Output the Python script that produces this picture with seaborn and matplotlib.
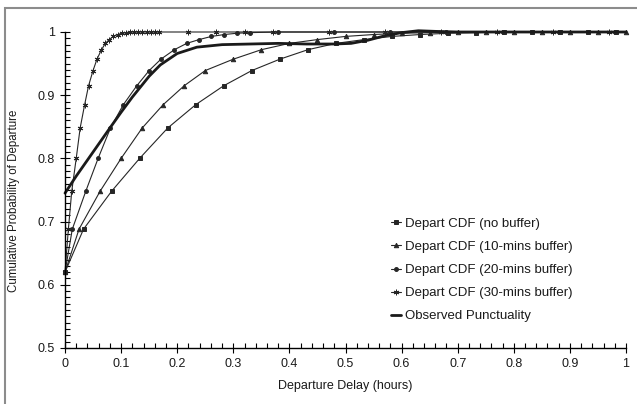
import numpy as np
import pandas as pd
import matplotlib
matplotlib.use("Agg")
import matplotlib.pyplot as plt
import seaborn as sns
from matplotlib.patches import Rectangle
from matplotlib.ticker import MultipleLocator

sns.set_theme(style="white")
plt.rcParams['font.family'] = ['Liberation Sans', 'DejaVu Sans']

# ---- data ----
cdf_y = [0.62, 0.688, 0.748, 0.80, 0.848, 0.885, 0.915, 0.939, 0.957, 0.972,
         0.982, 0.988, 0.993, 0.996, 0.998, 0.999, 1.0, 1.0, 1.0, 1.0, 1.0]

nobuf_x = [0, 0.033, 0.083, 0.133, 0.183, 0.233, 0.283, 0.333, 0.383, 0.433,
           0.483, 0.533, 0.583, 0.633, 0.683, 0.733, 0.783, 0.833, 0.883, 0.933, 0.983]
nobuf_y = cdf_y

buf10_x = [0, 0.025, 0.0625, 0.10, 0.1375, 0.175, 0.2125, 0.25, 0.30, 0.35,
           0.40, 0.45, 0.50, 0.55, 0.60, 0.65, 0.70, 0.75, 0.80, 0.85, 0.90, 0.95, 1.0]
buf10_y = [0.62, 0.688, 0.748, 0.80, 0.848, 0.885, 0.915, 0.939, 0.957, 0.972,
           0.982, 0.988, 0.993, 0.996, 0.998, 0.999, 1.0, 1.0, 1.0, 1.0, 1.0, 1.0, 1.0]

buf20_x = [0, 0.013, 0.037, 0.059, 0.081, 0.104, 0.128, 0.15, 0.171, 0.195,
           0.217, 0.239, 0.261, 0.284, 0.306, 0.33, 0.38, 0.48, 0.58, 0.68,
           0.78, 0.88, 0.98]
buf20_y = [0.62, 0.688, 0.748, 0.80, 0.848, 0.885, 0.915, 0.939, 0.957, 0.972,
           0.982, 0.988, 0.993, 0.996, 0.998, 0.999, 1.0, 1.0, 1.0, 1.0,
           1.0, 1.0, 1.0]

buf30_x = [0, 0.006, 0.012, 0.020, 0.027, 0.035, 0.042, 0.050, 0.057, 0.065,
           0.072, 0.079, 0.086, 0.094, 0.101, 0.108, 0.116, 0.123, 0.131, 0.138,
           0.146, 0.153, 0.160, 0.168, 0.22, 0.27, 0.32, 0.37, 0.47, 0.57,
           0.67, 0.77, 0.87, 0.97]
buf30_y = [0.62, 0.688, 0.748, 0.80, 0.848, 0.885, 0.915, 0.939, 0.957, 0.972,
           0.982, 0.988, 0.993, 0.996, 0.998, 0.999, 1.0, 1.0, 1.0, 1.0,
           1.0, 1.0, 1.0, 1.0, 1.0, 1.0, 1.0, 1.0, 1.0, 1.0,
           1.0, 1.0, 1.0, 1.0]

obs_x = [0, 0.02, 0.05, 0.08, 0.10, 0.12, 0.15, 0.17, 0.20, 0.235, 0.28, 0.33,
         0.38, 0.43, 0.48, 0.51, 0.54, 0.57, 0.60, 0.63, 0.66, 0.70, 0.80, 0.90, 1.0]
obs_y = [0.745, 0.772, 0.81, 0.848, 0.873, 0.897, 0.93, 0.948, 0.966, 0.976, 0.98, 0.981,
         0.982, 0.981, 0.981, 0.982, 0.987, 0.994, 0.999, 1.002, 1.001, 1.0, 1.0, 1.0, 1.0]

labels = ["Depart CDF (no buffer)", "Depart CDF (10-mins buffer)",
          "Depart CDF (20-mins buffer)", "Depart CDF (30-mins buffer)",
          "Observed Punctuality"]

# ---- figure ----
fig = plt.figure(figsize=(6.37, 4.04), dpi=100)
ax = fig.add_axes([65/637, 1-348/404, (626-65)/637, (348-32)/404])

line_c = "#262626"
series = [
    (nobuf_x, nobuf_y, "s", 3.2, 0.8),
    (buf10_x, buf10_y, "^", 3.2, 0.8),
    (buf20_x, buf20_y, "o", 2.8, 0.8),
    (buf30_x, buf30_y, (6, 2, 0), 4.0, 0.8),
]
for (xs, ys, mk, ms, lw), lab in zip(series, labels[:4]):
    df = pd.DataFrame({"x": xs, "y": ys})
    sns.lineplot(data=df, x="x", y="y", ax=ax, color=line_c, lw=lw,
                 marker=mk, markersize=ms, markeredgewidth=0.7,
                 markeredgecolor=line_c, markerfacecolor=line_c,
                 estimator=None, sort=False, label=lab, clip_on=False)

dfo = pd.DataFrame({"x": obs_x, "y": obs_y})
sns.lineplot(data=dfo, x="x", y="y", ax=ax, color="#1a1a1a", lw=2.0,
             estimator=None, sort=False, label=labels[4], clip_on=False)

ax.set_xlim(0, 1)
ax.set_ylim(0.5, 1.0)
ax.xaxis.set_major_locator(MultipleLocator(0.1))
ax.xaxis.set_minor_locator(MultipleLocator(0.02))
ax.yaxis.set_major_locator(MultipleLocator(0.1))
ax.yaxis.set_minor_locator(MultipleLocator(0.01))

def fmt(v, pos):
    s = f"{v:.1f}"
    if s.endswith(".0"):
        s = s[:-2]
    return s
ax.xaxis.set_major_formatter(matplotlib.ticker.FuncFormatter(fmt))
ax.yaxis.set_major_formatter(matplotlib.ticker.FuncFormatter(fmt))

for s in ["top", "right"]:
    ax.spines[s].set_visible(False)
for s in ["left", "bottom"]:
    ax.spines[s].set_color("black")
    ax.spines[s].set_linewidth(1.0)

ax.tick_params(axis="both", which="major", direction="inout", length=7,
               width=0.8, color="black", labelsize=9, labelcolor="#1a1a1a", pad=4,
               bottom=True, left=True)
ax.tick_params(axis="both", which="minor", direction="in", length=3.5,
               width=0.8, color="black", bottom=True, left=True)

ax.set_xlabel("Departure Delay (hours)", fontsize=9, color="#1a1a1a", labelpad=7)
ax.set_ylabel("Cumulative Probability of Departure", fontsize=8.3, color="#1a1a1a")
ax.yaxis.set_label_coords(-0.080, 0.465)
ax.grid(False)

leg = ax.legend(loc="upper left", bbox_to_anchor=(0.581, 0.412), frameon=False,
                fontsize=9.5, handlelength=0.8, handletextpad=0.3,
                labelspacing=0.82, borderpad=0, borderaxespad=0)
for t in leg.get_texts():
    t.set_color("#1a1a1a")

# outer frame
fig.patches.append(Rectangle((5/637, -0.1), 1.2, 1.1 - 8/404,
                             transform=fig.transFigure, fill=False,
                             edgecolor="#8c8c8c", lw=1.5))

fig.savefig("out.png", dpi=100)
